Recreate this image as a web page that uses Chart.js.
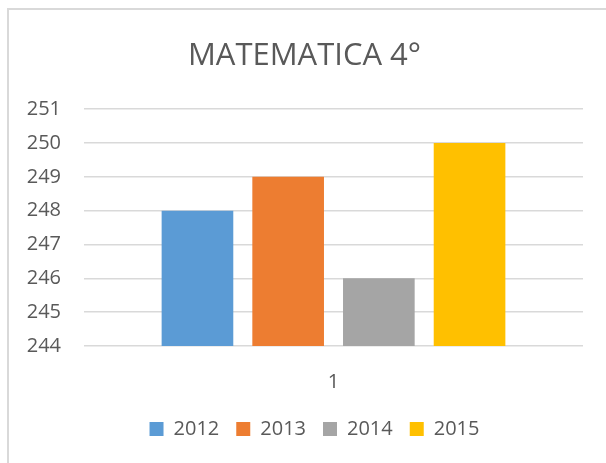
<!DOCTYPE html>
<html>
<head>
<meta charset="utf-8">
<script src="https://cdn.jsdelivr.net/npm/chart.js@4/dist/chart.umd.min.js"></script>
<style>
  html, body { margin: 0; padding: 0; background: #fff; overflow: hidden; }
  #marco { position: absolute; left: 7px; top: 8px; width: 700px; height: 600px; border: 2px solid #d9d9d9; }
  #caja { position: absolute; left: 0; top: 0; width: 606px; height: 463px; }
</style>
</head>
<body>
<div id="marco"></div>
<div id="caja"><canvas id="grafico" width="606" height="463"></canvas></div>
<script>
const categorias = ["1"];
const anios = ["2012", "2013", "2014", "2015"];
const puntajes = [248, 249, 246, 250];
const colores = ["#5B9BD5", "#ED7D31", "#A5A5A5", "#FFC000"];
const marcasY = [244, 245, 246, 247, 248, 249, 250, 251];

const fuente = "'Open Sans', sans-serif";
const gris = "#595959";

// la leyenda del original queda un poco corrida a la derecha
const correrLeyenda = {
    id: "correrLeyenda",
    afterLayout(chart) {
        chart.legend.left += 10;
        chart.legend.right += 10;
    }
};

new Chart(document.getElementById("grafico"), {
    type: "bar",
    data: {
        labels: categorias,
        datasets: anios.map((a, i) => ({
            label: a,
            data: [puntajes[i]],
            backgroundColor: colores[i],
            categoryPercentage: 0.727,
            barPercentage: 0.79
        }))
    },
    options: {
        responsive: false,
        animation: false,
        layout: {
            padding: { left: 26, right: 23, top: 0, bottom: 14 }
        },
        plugins: {
            title: {
                display: true,
                text: "MATEMATICA 4°",
                color: gris,
                font: { family: fuente, size: 31, weight: "normal" },
                padding: { top: 38, bottom: 34 }
            },
            legend: {
                position: "bottom",
                labels: {
                    color: gris,
                    boxWidth: 14,
                    boxHeight: 14,
                    padding: 17,
                    font: { family: fuente, size: 20 }
                }
            },
            tooltip: { enabled: false }
        },
        scales: {
            y: {
                min: 244,
                max: 251,
                afterBuildTicks: function (eje) {
                    eje.ticks = marcasY.map(v => ({ value: v }));
                },
                afterFit: function (eje) {
                    eje.width = 58;
                },
                ticks: {
                    color: gris,
                    padding: 23,
                    font: { family: fuente, size: 20 }
                },
                grid: {
                    color: "#d9d9d9",
                    lineWidth: 1.5,
                    drawTicks: false
                },
                border: { display: false }
            },
            x: {
                afterFit: function (eje) {
                    eje.height = 56;
                },
                ticks: {
                    color: gris,
                    padding: 24,
                    font: { family: fuente, size: 20 }
                },
                grid: { display: false, drawTicks: false },
                border: { display: false }
            }
        }
    },
    plugins: [correrLeyenda]
});
</script>
</body>
</html>
